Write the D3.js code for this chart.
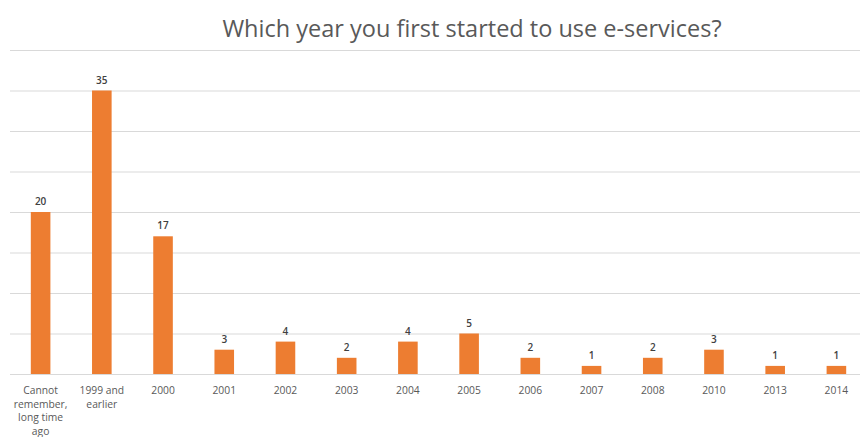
<!DOCTYPE html>
<html>
<head>
<meta charset="utf-8">
<script src="https://cdn.jsdelivr.net/npm/d3@7"></script>
<style>
  html, body { margin: 0; padding: 0; background: #fff; }
  svg { display: block; }
</style>
</head>
<body>
<svg id="chart" width="860" height="437"></svg>
<script>
// Survey answers: year of first e-service use
const categories = [
  "Cannot remember, long time ago", "1999 and earlier", "2000", "2001", "2002",
  "2003", "2004", "2005", "2006", "2007", "2008", "2010", "2013", "2014"
];
const categoryLines = [
  ["Cannot", "remember,", "long time", "ago"], ["1999 and", "earlier"], ["2000"], ["2001"], ["2002"],
  ["2003"], ["2004"], ["2005"], ["2006"], ["2007"], ["2008"], ["2010"], ["2013"], ["2014"]
];
const counts = [20, 35, 17, 3, 4, 2, 4, 5, 2, 1, 2, 3, 1, 1];
const gridTicks = [0, 5, 10, 15, 20, 25, 30, 35, 40];
const title = "Which year you first started to use e-services?";

const svg = d3.select("#chart");
const plotLeft = 10, plotRight = 867, plotTop = 50, plotBottom = 374;

const x = d3.scaleBand().domain(categories).range([plotLeft, plotRight]).paddingInner(0.68).paddingOuter(0.34);
const y = d3.scaleLinear().domain([0, 40]).range([plotBottom, plotTop]);

// title
svg.append("text")
  .attr("x", 472).attr("y", 37)
  .attr("text-anchor", "middle")
  .attr("font-family", "'Open Sans', sans-serif")
  .attr("font-size", 23.5)
  .attr("fill", "#595959")
  .text(title);

// horizontal gridlines
const gAxis = svg.append("g")
  .attr("transform", `translate(${plotLeft},0)`)
  .call(d3.axisLeft(y).tickValues(gridTicks).tickSize(-(plotRight - plotLeft)).tickFormat(""));
gAxis.select(".domain").remove();
gAxis.selectAll(".tick line").attr("stroke", "#d9d9d9").attr("stroke-width", 1.2);

// bars
svg.append("g").selectAll("rect")
  .data(counts)
  .join("rect")
  .attr("x", (d, i) => x(categories[i]))
  .attr("width", x.bandwidth())
  .attr("y", d => y(d))
  .attr("height", d => y(0) - y(d))
  .attr("fill", "#ED7D31");

// value labels
svg.append("g").selectAll("text")
  .data(counts)
  .join("text")
  .attr("x", (d, i) => x(categories[i]) + x.bandwidth() / 2)
  .attr("y", d => y(d) - 7)
  .attr("text-anchor", "middle")
  .attr("font-family", "'Open Sans', sans-serif")
  .attr("font-size", 10)
  .attr("font-weight", 600)
  .attr("fill", "#404040")
  .text(d => d);

// category labels
const labels = svg.append("g").selectAll("text")
  .data(categories)
  .join("text")
  .attr("x", d => x(d) + x.bandwidth() / 2)
  .attr("y", 394)
  .attr("text-anchor", "middle")
  .attr("font-family", "'Open Sans', sans-serif")
  .attr("font-size", 10.3)
  .attr("fill", "#595959");
labels.selectAll("tspan")
  .data((d, i) => categoryLines[i])
  .join("tspan")
  .attr("x", function() { return this.parentNode.getAttribute("x"); })
  .attr("dy", (d, j) => j === 0 ? 0 : 13.6)
  .text(d => d);
</script>
</body>
</html>
